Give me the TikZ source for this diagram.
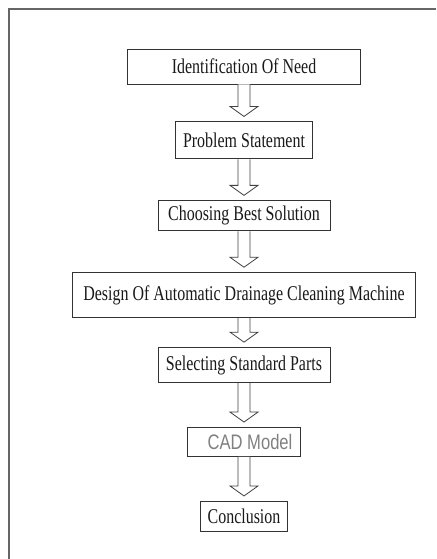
\documentclass[tikz,border=0pt]{standalone}
\usepackage{fontspec}
\setmainfont[FakeStretch=0.76]{Liberation Serif}
\newfontfamily\cadfont[FakeStretch=0.79]{Liberation Sans}
\usetikzlibrary{positioning, calc}

% hollow block arrow from one box down to the next
\newcommand{\flowarrow}[2]{%
  \draw[hollow] ($(#1.south)+(-6,0)$) |- ($(#2.north)+(-14,15)$)
    -- ($(#2.north)+(0,5)$) -- ($(#2.north)+(14,15)$) -| ($(#1.south)+(6,0)$);}

\begin{document}
\begin{tikzpicture}[
    x=1pt, y=1pt,
    node distance=41pt,
    box/.style={draw=black!80, line width=0.9pt, inner sep=0pt, align=center, text=black!90, font=\fontsize{21}{23}\selectfont},
    hollow/.style={draw=black!75, line width=0.8pt, fill=white},
    frame/.style={draw=black!60, line width=1.2pt}
]
\useasboundingbox (0,0) rectangle (436,-559);

\draw[frame] (9,-559) -- (9,-9) -- (436,-9);

\node[box, minimum width=233pt, minimum height=35pt] (need) at (244,-66.5) {Identification Of Need};
\node[box, minimum width=137pt, minimum height=37pt, below=37pt of need] (problem) {Problem Statement};
\node[box, minimum width=172pt, minimum height=30pt, below=of problem] (best) {Choosing Best Solution};
\node[box, minimum width=343pt, minimum height=45pt, below=of best] (design) {Design Of Automatic Drainage Cleaning Machine};
\node[box, minimum width=172pt, minimum height=35pt, below=29pt of design] (parts) {Selecting Standard Parts};
\node[box, minimum width=113pt, minimum height=29pt, below=44pt of parts, text=black!50, font=\cadfont\fontsize{21}{23}\selectfont] (cad) {\hspace{12pt}CAD Model};
\node[box, minimum width=87pt, minimum height=30pt, below=44pt of cad] (concl) {Conclusion};

\flowarrow{need}{problem}
\flowarrow{problem}{best}
\flowarrow{best}{design}
\flowarrow{design}{parts}
\flowarrow{parts}{cad}
\flowarrow{cad}{concl}

\end{tikzpicture}
\end{document}
